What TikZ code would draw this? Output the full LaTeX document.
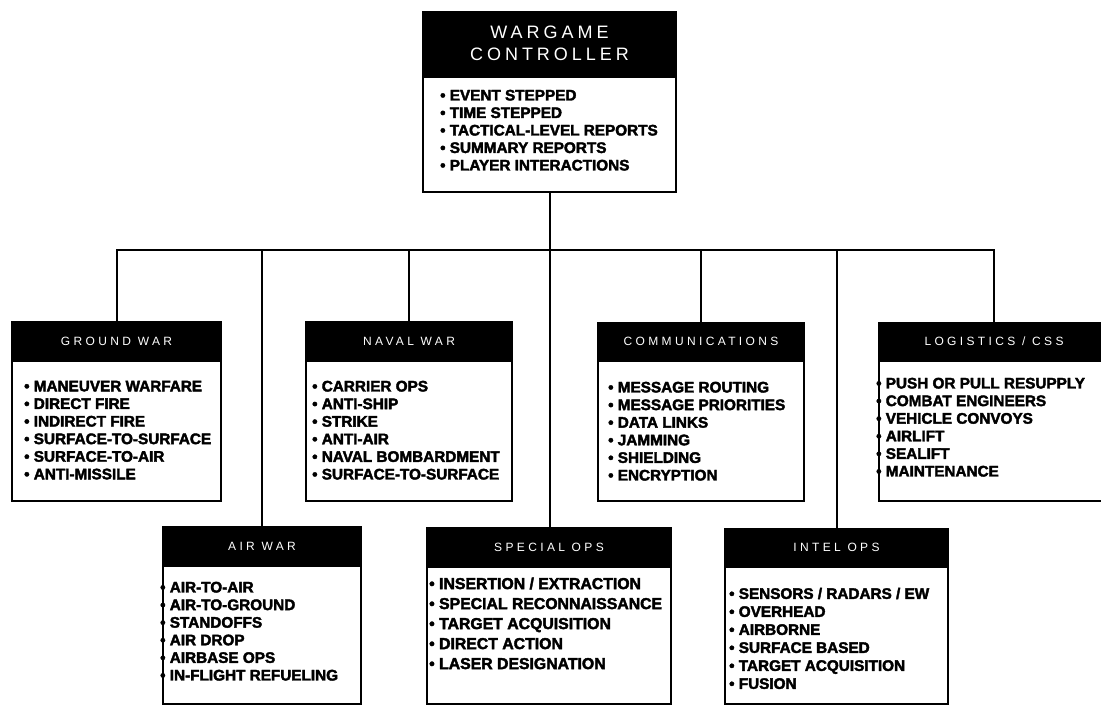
\documentclass[tikz,border=0pt]{standalone}
\usepackage{fontspec}
\setmainfont{Liberation Sans}
\newfontfamily\hdrbig[LetterSpace=22]{Liberation Sans}
\newfontfamily\hdrsmall[LetterSpace=28]{Liberation Sans}
\newfontfamily\itemfont[UprightFont={* Bold}, FakeBold=2.5]{Liberation Sans}
\usetikzlibrary{calc}
% name, x1, y1, x2, y2, header bottom, title
\newcommand\wgbox[7]{%
  \node[wbox, minimum width={#4-#2}, minimum height={#5-#3}] (#1) at ({(#2+#4)/2},{(#3+#5)/2}) {};
  \fill[black] (#1.north west) rectangle ($(#1.north east)+(0,#6-#3)$);
  \node[wtitle] (#1-title) at ($(#1.north)+(0,{(#6-#3)/2})$) {#7};
}
\begin{document}
\begin{tikzpicture}[x=1pt,y=-1pt,
  wbox/.style={draw, line width=2.6pt, fill=white, inner sep=0pt},
  wtitle/.style={text=white, inner sep=0pt, font=\hdrsmall\fontsize{12}{14}\selectfont},
  witems/.style={anchor=north west, inner sep=0pt, align=left,
     font=\itemfont\fontsize{15.3}{17.6}\selectfont},
  conn/.style={line width=2pt}]
\useasboundingbox (0,0) rectangle (1101,706);

% controller
\node[wbox, minimum width=253, minimum height=180] (ctrl) at (549.5,102) {};
\fill[black] (ctrl.north west) rectangle ($(ctrl.north east)+(0,67)$);
\node[text=white, inner sep=0pt, align=center, font=\hdrbig\fontsize{18}{22}\selectfont]
  (ctrl-title) at ($(ctrl.north)+(0,32.5)$) {WARGAME\\CONTROLLER};
\node[witems, font=\itemfont\fontsize{15.3}{17.5}\selectfont] (ctrl-items) at (440,89.6)
  {• EVENT STEPPED\\• TIME STEPPED\\• TACTICAL-LEVEL REPORTS\\• SUMMARY REPORTS\\• PLAYER INTERACTIONS};

% upper row
\wgbox{ground}{12}{322}{221}{501}{363}{GROUND WAR}
\node[witems] (ground-items) at (24,380.6)
  {• MANEUVER WARFARE\\• DIRECT FIRE\\• INDIRECT FIRE\\• SURFACE-TO-SURFACE\\• SURFACE-TO-AIR\\• ANTI-MISSILE};

\wgbox{naval}{306}{322}{512}{501}{363}{NAVAL WAR}
\node[witems] (naval-items) at (312,380.6)
  {• CARRIER OPS\\• ANTI-SHIP\\• STRIKE\\• ANTI-AIR\\• NAVAL BOMBARDMENT\\• SURFACE-TO-SURFACE};

\wgbox{comm}{598}{323}{804}{501}{363}{COMMUNICATIONS}
\node[witems] (comm-items) at (608,381.6)
  {• MESSAGE ROUTING\\• MESSAGE PRIORITIES\\• DATA LINKS\\• JAMMING\\• SHIELDING\\• ENCRYPTION};

\wgbox{logi}{879}{323}{1109}{501}{363}{LOGISTICS / CSS}
\node[witems] (logi-items) at (876,377.6)
  {• PUSH OR PULL RESUPPLY\\• COMBAT ENGINEERS\\• VEHICLE CONVOYS\\• AIRLIFT\\• SEALIFT\\• MAINTENANCE};

% lower row
\wgbox{air}{163}{527}{361}{704}{568}{AIR WAR}
\node[witems] (air-items) at (160,581.6)
  {• AIR-TO-AIR\\• AIR-TO-GROUND\\• STANDOFFS\\• AIR DROP\\• AIRBASE OPS\\• IN-FLIGHT REFUELING};

\wgbox{spec}{427}{528}{671}{704}{569}{SPECIAL OPS}
\node[witems, font=\itemfont\fontsize{15.8}{20}\selectfont] (spec-items) at (429,577.4)
  {• INSERTION / EXTRACTION\\• SPECIAL RECONNAISSANCE\\• TARGET ACQUISITION\\• DIRECT ACTION\\• LASER DESIGNATION};

\wgbox{intel}{725}{529}{948}{704}{569}{INTEL OPS}
\node[witems, font=\itemfont\fontsize{15.3}{18}\selectfont] (intel-items) at (729,587.6)
  {• SENSORS / RADARS / EW\\• OVERHEAD\\• AIRBORNE\\• SURFACE BASED\\• TARGET ACQUISITION\\• FUSION};

% connectors
\coordinate (barL) at (116.5,250);
\coordinate (barR) at (994,250);
\draw[conn] (ctrl.south) -- (ctrl.south |- spec.north);
\draw[conn] (ground.north) -- (barL) -- (barR) -- (logi.north);
\draw[conn] (air.north) -- (air.north |- barL);
\draw[conn] (naval.north) -- (naval.north |- barL);
\draw[conn] (comm.north) -- (comm.north |- barL);
\draw[conn] (intel.north) -- (intel.north |- barL);
\end{tikzpicture}
\end{document}
